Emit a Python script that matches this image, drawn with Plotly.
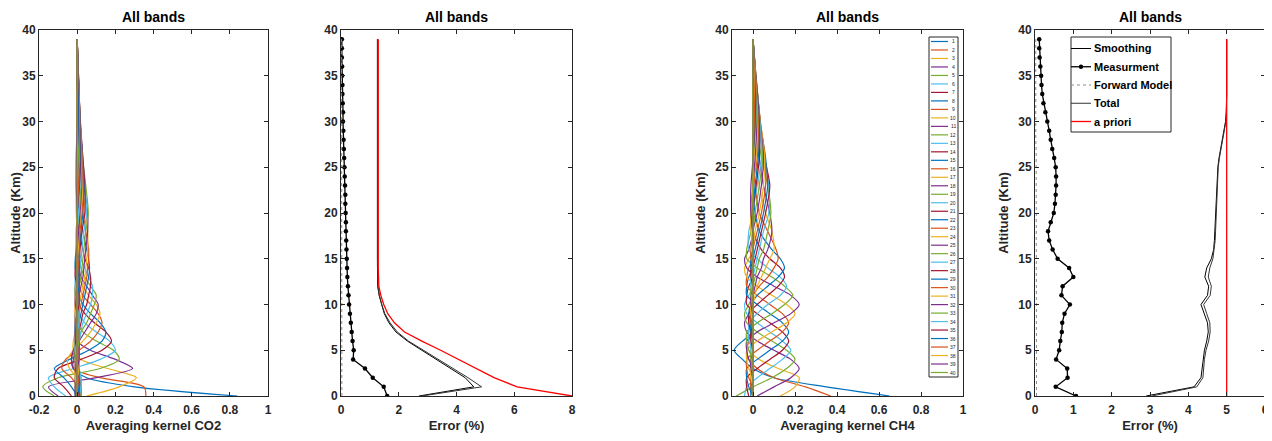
import plotly.graph_objects as go

# ---------------- data ----------------
ALT = [0, 1, 2, 3, 4, 5, 6, 7, 8, 9, 10, 11, 12, 13, 14, 15, 16, 17, 18, 19,
       20, 21, 22, 23, 24, 25, 26, 27, 28, 29, 30, 31, 32, 33, 34, 35, 36, 37, 38, 39]

# altitude grid on which the averaging-kernel rows are read
Z_AK = [0, 1, 2, 3, 4, 5, 6, 7, 8, 9, 10, 11, 12, 13, 14, 15, 16, 18, 20, 23, 26, 30, 35, 39]

CO2_AK = [
    [0.84, 0.30, 0.05, -0.02, -0.02, -0.01, 0, 0, 0, 0, 0, 0, 0, 0, 0, 0, 0, 0, 0, 0, 0, 0, 0, 0],
    [0.36, 0.35, 0.12, -0.02, -0.03, -0.02, -0.01, 0, 0, 0, 0, 0, 0, 0, 0, 0, 0, 0, 0, 0, 0, 0, 0, 0],
    [0.05, 0.22, 0.31, 0.16, 0.02, -0.02, -0.02, -0.01, 0, 0, 0, 0, 0, 0, 0, 0, 0, 0, 0, 0, 0, 0, 0, 0],
    [-0.10, -0.15, 0.10, 0.29, 0.20, 0.07, 0, -0.01, 0, 0, 0, 0, 0, 0, 0, 0, 0, 0, 0, 0, 0, 0, 0, 0],
    [-0.12, -0.18, -0.10, 0.12, 0.22, 0.19, 0.10, 0.03, 0, 0, 0, 0, 0, 0, 0, 0, 0, 0, 0, 0, 0, 0, 0, 0],
    [-0.06, -0.12, -0.15, -0.02, 0.12, 0.20, 0.17, 0.10, 0.04, 0.01, 0, 0, 0, 0, 0, 0, 0, 0, 0, 0, 0, 0, 0, 0],
    [-0.03, -0.07, -0.12, -0.10, 0.02, 0.13, 0.18, 0.15, 0.09, 0.04, 0.01, 0, 0, 0, 0, 0, 0, 0, 0, 0, 0, 0, 0, 0],
    [0, -0.03, -0.07, -0.12, -0.04, 0.06, 0.13, 0.15, 0.12, 0.07, 0.03, 0.01, 0, 0, 0, 0, 0, 0, 0, 0, 0, 0, 0, 0],
    [0.01, 0, -0.03, -0.08, -0.06, 0.01, 0.07, 0.11, 0.13, 0.11, 0.07, 0.03, 0.01, 0, 0, 0, 0, 0, 0, 0, 0, 0, 0, 0],
    [0.02, 0.01, 0, -0.04, -0.05, -0.02, 0.03, 0.07, 0.10, 0.12, 0.10, 0.06, 0.03, 0.01, 0, 0, 0, 0, 0, 0, 0, 0, 0, 0],
    [0.02, 0.02, 0.01, -0.02, -0.03, -0.02, 0.01, 0.04, 0.07, 0.10, 0.11, 0.08, 0.05, 0.02, 0.01, 0, 0, 0, 0, 0, 0, 0, 0, 0],
    [0.02, 0.02, 0.02, 0, -0.01, -0.01, 0.01, 0.02, 0.05, 0.07, 0.09, 0.10, 0.07, 0.04, 0.02, 0.01, 0, 0, 0, 0, 0, 0, 0, 0],
    [0.01, 0.02, 0.02, 0.01, 0, 0, 0.01, 0.02, 0.03, 0.05, 0.07, 0.08, 0.08, 0.06, 0.04, 0.02, 0.01, 0, 0, 0, 0, 0, 0, 0],
    [0.01, 0.01, 0.01, 0.01, 0.01, 0.01, 0.01, 0.01, 0.02, 0.03, 0.05, 0.06, 0.07, 0.07, 0.06, 0.04, 0.03, 0.01, 0, 0, 0, 0, 0, 0],
    [0, 0.01, 0.01, 0.01, 0.01, 0.01, 0.01, 0.01, 0.01, 0.02, 0.03, 0.04, 0.05, 0.06, 0.065, 0.06, 0.05, 0.03, 0.01, 0, 0, 0, 0, 0],
    [0, 0, 0.01, 0.01, 0.01, 0.01, 0.01, 0.01, 0.01, 0.01, 0.02, 0.03, 0.04, 0.05, 0.055, 0.06, 0.06, 0.045, 0.03, 0.01, 0, 0, 0, 0],
    [0, 0, 0, 0.01, 0.01, 0.01, 0.01, 0.01, 0.01, 0.01, 0.01, 0.02, 0.03, 0.04, 0.045, 0.05, 0.055, 0.055, 0.045, 0.025, 0.01, 0, 0, 0],
    [0, 0, 0, 0, 0.01, 0.01, 0.01, 0.01, 0.01, 0.01, 0.01, 0.01, 0.02, 0.03, 0.035, 0.04, 0.045, 0.055, 0.055, 0.035, 0.02, 0.01, 0, 0],
    [0, 0, 0, 0, 0, 0, 0.01, 0.01, 0.01, 0.01, 0.01, 0.01, 0.01, 0.02, 0.025, 0.03, 0.035, 0.045, 0.058, 0.045, 0.028, 0.012, 0, 0],
    [0, 0, 0, 0, 0, 0, 0, 0, 0.01, 0.01, 0.01, 0.01, 0.01, 0.01, 0.015, 0.02, 0.025, 0.035, 0.05, 0.04, 0.03, 0.015, 0.005, 0],
    [-0.01, -0.01, 0, 0, 0, 0, 0, 0, 0, 0, 0.01, 0.01, 0.01, 0.01, 0.01, 0.012, 0.015, 0.025, 0.04, 0.04, 0.03, 0.017, 0.006, 0],
    [-0.01, -0.01, -0.01, 0, 0, 0, 0, 0, 0, 0, 0, 0, 0.01, 0.01, 0.01, 0.01, 0.01, 0.02, 0.03, 0.035, 0.028, 0.015, 0.005, 0],
    [0, -0.01, -0.01, -0.01, 0, 0, 0, 0, 0, 0, 0, 0, 0, 0, 0.005, 0.01, 0.01, 0.015, 0.025, 0.032, 0.026, 0.016, 0.006, 0],
    [0, 0, -0.01, -0.01, -0.01, 0, 0, 0, 0, 0, 0, 0, 0, 0, 0, 0, 0.005, 0.01, 0.02, 0.028, 0.025, 0.015, 0.005, 0],
    [0, 0, 0, -0.01, -0.01, -0.01, 0, 0, 0, 0, 0, 0, 0, 0, 0, 0, 0, 0.008, 0.015, 0.024, 0.024, 0.015, 0.006, 0],
    [0, 0, 0, 0, -0.01, -0.01, -0.01, 0, 0, 0, 0, 0, 0, 0, 0, 0, 0, 0, 0.01, 0.02, 0.022, 0.016, 0.006, 0],
    [0, 0, 0, 0, 0, -0.01, -0.01, -0.01, 0, 0, 0, 0, 0, 0, 0, 0, 0, 0, 0.008, 0.015, 0.02, 0.015, 0.006, 0],
    [0, 0, 0, 0, 0, 0, -0.01, -0.01, -0.01, 0, 0, 0, 0, 0, 0, 0, 0, 0, 0, 0.012, 0.018, 0.015, 0.007, 0],
    [0, 0, 0, 0, 0, 0, 0, -0.01, -0.01, -0.01, 0, 0, 0, 0, 0, 0, 0, 0, 0, 0.01, 0.015, 0.014, 0.007, 0],
    [0, 0, 0, 0, 0, 0, 0, 0, -0.01, -0.01, -0.01, 0, 0, 0, 0, 0, 0, 0, 0, 0.008, 0.012, 0.013, 0.007, 0],
    [0, 0, 0, 0, 0, 0, 0, 0, 0, -0.01, -0.01, -0.01, 0, 0, 0, 0, 0, 0, 0, 0, 0.01, 0.012, 0.006, 0],
    [0, 0, 0, 0, 0, 0, 0, 0, 0, 0, -0.01, -0.01, -0.01, 0, 0, 0, 0, 0, 0, 0, 0.008, 0.01, 0.006, 0],
    [0, 0, 0, 0, 0, 0, 0, 0, 0, 0, 0, -0.01, -0.01, -0.005, 0, 0, 0, 0, 0, 0, 0.006, 0.009, 0.006, 0],
    [0, 0, 0, 0, 0, 0, 0, 0, 0, 0, 0, 0, -0.01, -0.01, -0.005, 0, 0, 0, 0, 0, 0, 0.008, 0.005, 0],
    [0, 0, 0, 0, 0, 0, 0, 0, 0, 0, 0, 0, 0, -0.01, -0.01, -0.005, 0, 0, 0, 0, 0, 0.006, 0.005, 0],
    [0, 0, 0, 0, 0, 0, 0, 0, 0, 0, 0, 0, 0, 0, -0.01, -0.01, -0.005, 0, 0, 0, 0, 0.005, 0.004, 0],
    [0, 0, 0, 0, 0, 0, 0, 0, 0, 0, 0, 0, 0, 0, 0, -0.005, -0.005, -0.005, 0, 0, 0, 0, 0.003, 0],
    [0, 0, 0, 0, 0, 0, 0, 0, 0, 0, 0, 0, 0, 0, 0, 0, 0, 0, -0.005, -0.005, 0, 0, 0.002, 0],
    [0, 0, 0, 0, 0, 0, 0, 0, 0, 0, 0, 0, 0, 0, 0, 0, 0, 0, 0, -0.005, -0.005, 0, 0, 0],
    [0, 0, 0, 0, 0, 0, 0, 0, 0, 0, 0, 0, 0, 0, 0, 0, 0, 0, 0, 0, 0, 0, 0, 0],
]

CH4_AK = [
    [0.65, 0.35, 0.10, 0, -0.05, -0.09, -0.05, 0, 0, 0, 0, 0, 0, 0, 0, 0, 0, 0, 0, 0, 0, 0, 0, 0],
    [0.37, 0.25, 0.10, 0.02, -0.02, -0.03, -0.02, -0.01, 0, 0, 0, 0, 0, 0, 0, 0, 0, 0, 0, 0, 0, 0, 0, 0],
    [0.13, 0.20, 0.22, 0.12, 0.03, -0.02, -0.03, -0.02, 0, 0, 0, 0, 0, 0, 0, 0, 0, 0, 0, 0, 0, 0, 0, 0],
    [0.02, 0.10, 0.18, 0.22, 0.18, 0.10, 0.02, -0.03, -0.04, -0.02, 0, 0, 0, 0, 0, 0, 0, 0, 0, 0, 0, 0, 0, 0],
    [-0.08, 0.00, 0.09, 0.16, 0.20, 0.16, 0.09, 0.02, -0.03, -0.04, -0.02, 0, 0, 0, 0, 0, 0, 0, 0, 0, 0, 0, 0, 0],
    [-0.04, -0.03, 0.02, 0.08, 0.14, 0.18, 0.14, 0.08, 0.02, -0.03, -0.04, -0.02, 0, 0, 0, 0, 0, 0, 0, 0, 0, 0, 0, 0],
    [-0.02, -0.03, -0.03, 0.02, 0.08, 0.14, 0.17, 0.14, 0.08, 0.02, -0.03, -0.03, -0.02, 0, 0, 0, 0, 0, 0, 0, 0, 0, 0, 0],
    [0, -0.02, -0.03, -0.03, 0.02, 0.08, 0.14, 0.17, 0.14, 0.08, 0.02, -0.03, -0.03, -0.02, 0, 0, 0, 0, 0, 0, 0, 0, 0, 0],
    [0, 0, -0.02, -0.03, -0.03, 0.02, 0.08, 0.14, 0.17, 0.14, 0.08, 0.02, -0.03, -0.03, -0.02, 0, 0, 0, 0, 0, 0, 0, 0, 0],
    [0, 0, 0, -0.02, -0.03, -0.03, 0.02, 0.09, 0.16, 0.20, 0.16, 0.09, 0.02, -0.03, -0.04, -0.02, 0, 0, 0, 0, 0, 0, 0, 0],
    [0, 0, 0, 0, -0.02, -0.03, -0.03, 0.02, 0.10, 0.18, 0.22, 0.18, 0.10, 0.02, -0.03, -0.04, -0.02, 0, 0, 0, 0, 0, 0, 0],
    [0, 0, 0, 0, 0, -0.02, -0.03, -0.03, 0.02, 0.09, 0.15, 0.19, 0.15, 0.09, 0.02, -0.03, -0.03, -0.01, 0, 0, 0, 0, 0, 0],
    [0, 0, 0, 0, 0, 0, -0.02, -0.02, -0.02, 0.02, 0.07, 0.13, 0.16, 0.13, 0.07, 0.02, -0.02, -0.02, 0, 0, 0, 0, 0, 0],
    [0, 0, 0, 0, 0, 0, 0, -0.01, -0.02, -0.02, 0.02, 0.07, 0.12, 0.15, 0.13, 0.08, 0.04, 0, -0.01, 0, 0, 0, 0, 0],
    [0, 0, 0, 0, 0, 0, 0, 0, -0.01, -0.02, -0.01, 0.02, 0.07, 0.12, 0.15, 0.13, 0.09, 0.03, 0.01, 0, 0, 0, 0, 0],
    [0, 0, 0, 0, 0, 0, 0, 0, 0, -0.01, -0.01, 0, 0.03, 0.07, 0.10, 0.12, 0.11, 0.07, 0.03, 0.01, 0, 0, 0, 0],
    [0, 0, 0, 0, 0, 0, 0, 0, 0, 0, 0, 0.01, 0.02, 0.04, 0.06, 0.08, 0.10, 0.09, 0.06, 0.03, 0.01, 0, 0, 0],
    [0, 0, 0, 0, 0, 0, 0, 0, 0, 0, 0, 0, 0.01, 0.02, 0.04, 0.05, 0.07, 0.09, 0.08, 0.05, 0.03, 0.01, 0, 0],
    [0, 0, 0, 0, 0, 0, 0, 0, 0, 0, 0, 0, 0, 0.01, 0.02, 0.03, 0.05, 0.07, 0.085, 0.07, 0.04, 0.02, 0.01, 0],
    [0, 0, 0, 0, 0, 0, 0, 0, 0, 0, 0, 0, 0, 0, 0.01, 0.02, 0.03, 0.05, 0.075, 0.075, 0.05, 0.025, 0.01, 0],
    [0, 0, 0, 0, 0, 0, 0, 0, 0, 0, 0, 0, 0, 0, 0, 0.01, 0.02, 0.04, 0.06, 0.08, 0.055, 0.03, 0.01, 0],
    [-0.01, -0.01, 0, 0, 0, 0, 0, 0, 0, 0, 0, 0, 0, 0, 0, 0, 0.01, 0.03, 0.05, 0.07, 0.06, 0.033, 0.012, 0],
    [0, -0.01, -0.01, 0, 0, 0, 0, 0, 0, 0, 0, 0, 0, 0, 0, 0, 0, 0.02, 0.04, 0.06, 0.058, 0.035, 0.013, 0],
    [0, 0, -0.01, -0.01, 0, 0, 0, 0, 0, 0, 0, 0, 0, 0, 0, 0, 0, 0.01, 0.03, 0.05, 0.055, 0.035, 0.014, 0],
    [0, 0, 0, -0.01, -0.01, 0, 0, 0, 0, 0, 0, 0, 0, 0, 0, 0, 0, 0, 0.02, 0.04, 0.05, 0.034, 0.014, 0],
    [0, 0, 0, 0, -0.01, -0.01, 0, 0, 0, 0, 0, 0, 0, 0, 0, 0, 0, 0, 0.01, 0.03, 0.045, 0.033, 0.014, 0],
    [0, 0, 0, 0, 0, -0.01, -0.01, 0, 0, 0, 0, 0, 0, 0, 0, 0, 0, 0, 0, 0.02, 0.04, 0.032, 0.013, 0],
    [0, 0, 0, 0, 0, 0, -0.01, -0.01, 0, 0, 0, 0, 0, 0, 0, 0, 0, 0, 0, 0.015, 0.03, 0.03, 0.013, 0],
    [0, 0, 0, 0, 0, 0, 0, -0.01, -0.01, 0, 0, 0, 0, 0, 0, 0, 0, 0, 0, 0.01, 0.025, 0.028, 0.012, 0],
    [0, 0, 0, 0, 0, 0, 0, 0, -0.01, -0.01, 0, 0, 0, 0, 0, 0, 0, 0, 0, 0, 0.02, 0.025, 0.012, 0],
    [0, 0, 0, 0, 0, 0, 0, 0, 0, -0.01, -0.01, 0, 0, 0, 0, 0, 0, 0, 0, 0, 0.015, 0.022, 0.011, 0],
    [0, 0, 0, 0, 0, 0, 0, 0, 0, 0, -0.01, -0.01, 0, 0, 0, 0, 0, 0, 0, 0, 0.01, 0.018, 0.01, 0],
    [0, 0, 0, 0, 0, 0, 0, 0, 0, 0, 0, -0.01, -0.01, 0, 0, 0, 0, 0, 0, 0, 0, 0.015, 0.01, 0],
    [0, 0, 0, 0, 0, 0, 0, 0, 0, 0, 0, 0, -0.01, -0.01, 0, 0, 0, 0, 0, 0, 0, 0.012, 0.009, 0],
    [0, 0, 0, 0, 0, 0, 0, 0, 0, 0, 0, 0, 0, -0.01, -0.01, 0, 0, 0, 0, 0, 0, 0.01, 0.008, 0],
    [0, 0, 0, 0, 0, 0, 0, 0, 0, 0, 0, 0, 0, 0, -0.01, -0.01, 0, 0, 0, 0, 0, 0.008, 0.007, 0],
    [0, 0, 0, 0, 0, 0, 0, 0, 0, 0, 0, 0, 0, 0, 0, -0.01, -0.01, 0, 0, 0, 0, 0.006, 0.006, 0],
    [0, 0, 0, 0, 0, 0, 0, 0, 0, 0, 0, 0, 0, 0, 0, 0, 0, -0.01, -0.01, 0, 0, 0, 0.005, 0],
    [0, 0, 0, 0, 0, 0, 0, 0, 0, 0, 0, 0, 0, 0, 0, 0, 0, 0, -0.01, -0.01, 0, 0, 0.003, 0],
    [0, 0, 0, 0, 0, 0, 0, 0, 0, 0, 0, 0, 0, 0, 0, 0, 0, 0, 0, 0, 0, 0, 0, 0],
]

CO2_SMOOTH = [2.70, 4.60, 4.30, 3.80, 3.30, 2.80, 2.30, 1.90, 1.66, 1.50, 1.40, 1.32, 1.27, 1.26,
              1.26, 1.26, 1.26, 1.26, 1.26, 1.26, 1.26, 1.26, 1.26, 1.26, 1.26, 1.26, 1.26, 1.26,
              1.26, 1.26, 1.26, 1.26, 1.26, 1.26, 1.26, 1.26, 1.26, 1.26, 1.26, 1.26]
CO2_MEAS = [1.60, 1.48, 1.10, 0.83, 0.42, 0.44, 0.40, 0.37, 0.34, 0.31, 0.28, 0.26, 0.24, 0.22,
            0.21, 0.20, 0.19, 0.18, 0.17, 0.17, 0.16, 0.15, 0.15, 0.14, 0.13, 0.12, 0.11, 0.10,
            0.09, 0.08, 0.07, 0.07, 0.06, 0.05, 0.05, 0.04, 0.04, 0.03, 0.03, 0.03]
CO2_FWD = [0.03, 0.03, 0.03, 0.03, 0.03, 0.03, 0.03, 0.03, 0.03, 0.03, 0.03, 0.03, 0.03, 0.03,
           0.03, 0.03, 0.03, 0.03, 0.03, 0.03, 0.02, 0.02, 0.02, 0.02, 0.02, 0.02, 0.02, 0.02,
           0.02, 0.02, 0.02, 0.02, 0.02, 0.02, 0.02, 0.02, 0.02, 0.02, 0.02, 0.02]
CO2_TOTAL = [2.80, 4.87, 4.40, 3.88, 3.37, 2.86, 2.34, 1.95, 1.70, 1.52, 1.41, 1.33, 1.28, 1.27,
             1.27, 1.27, 1.27, 1.27, 1.27, 1.27, 1.27, 1.27, 1.27, 1.27, 1.27, 1.27, 1.27, 1.27,
             1.27, 1.27, 1.27, 1.27, 1.27, 1.27, 1.27, 1.27, 1.27, 1.27, 1.27, 1.27]
CO2_APRIORI = [8.00, 6.10, 5.30, 4.70, 4.10, 3.45, 2.80, 2.20, 1.85, 1.62, 1.48, 1.38, 1.31, 1.29,
               1.29, 1.29, 1.29, 1.29, 1.29, 1.29, 1.29, 1.29, 1.29, 1.29, 1.29, 1.29, 1.29, 1.29,
               1.29, 1.29, 1.29, 1.29, 1.29, 1.29, 1.29, 1.29, 1.29, 1.29, 1.29, 1.29]

CH4_SMOOTH = [2.90, 4.15, 4.33, 4.36, 4.38, 4.42, 4.48, 4.52, 4.50, 4.42, 4.33, 4.50, 4.53, 4.43,
              4.48, 4.60, 4.66, 4.68, 4.69, 4.70, 4.71, 4.72, 4.73, 4.74, 4.75, 4.77, 4.80, 4.84,
              4.88, 4.93, 4.97, 4.99, 5.00, 5.00, 5.00, 5.00, 5.00, 5.00, 5.00, 5.00]
CH4_MEAS = [1.07, 0.54, 0.85, 0.84, 0.55, 0.63, 0.66, 0.70, 0.71, 0.77, 0.91, 0.69, 0.72, 1.00,
            0.89, 0.59, 0.46, 0.37, 0.34, 0.41, 0.49, 0.52, 0.54, 0.55, 0.55, 0.54, 0.50, 0.45,
            0.41, 0.37, 0.32, 0.27, 0.22, 0.19, 0.17, 0.16, 0.14, 0.12, 0.11, 0.11]
CH4_FWD = [0.04, 0.04, 0.04, 0.04, 0.04, 0.04, 0.04, 0.04, 0.04, 0.04, 0.04, 0.04, 0.04, 0.04,
           0.04, 0.04, 0.04, 0.04, 0.04, 0.04, 0.03, 0.03, 0.03, 0.03, 0.03, 0.03, 0.03, 0.03,
           0.02, 0.02, 0.02, 0.02, 0.02, 0.02, 0.02, 0.02, 0.02, 0.02, 0.02, 0.02]
CH4_TOTAL = [3.05, 4.22, 4.38, 4.40, 4.42, 4.46, 4.53, 4.57, 4.56, 4.48, 4.40, 4.57, 4.60, 4.52,
             4.56, 4.64, 4.68, 4.70, 4.71, 4.72, 4.72, 4.73, 4.74, 4.75, 4.76, 4.78, 4.81, 4.85,
             4.89, 4.94, 4.98, 4.99, 5.00, 5.00, 5.00, 5.00, 5.00, 5.00, 5.00, 5.00]
CH4_APRIORI = [5.0, 5.0, 5.0, 5.0, 5.0, 5.0, 5.0, 5.0, 5.0, 5.0, 5.0, 5.0, 5.0, 5.0,
               5.0, 5.0, 5.0, 5.0, 5.0, 5.0, 5.0, 5.0, 5.0, 5.0, 5.0, 5.0, 5.0, 5.0,
               5.0, 5.0, 5.0, 5.0, 5.0, 5.0, 5.0, 5.0, 5.0, 5.0, 5.0, 5.0]

KERNEL_LABELS = ["1", "2", "3", "4", "5", "6", "7", "8", "9", "10", "11", "12", "13", "14",
                 "15", "16", "17", "18", "19", "20", "21", "22", "23", "24", "25", "26", "27",
                 "28", "29", "30", "31", "32", "33", "34", "35", "36", "37", "38", "39", "40"]
ERROR_NAMES = ["Smoothing", "Measurment", "Forward Model", "Total", "a priori"]
MATLAB_COLORS = ["#0072BD", "#D95319", "#EDB120", "#7E2F8E", "#77AC30", "#4DBEEE", "#A2142F"]

PANEL_TITLE = "All bands"
X_TITLES = ["Averaging kernel CO2", "Error (%)", "Averaging kernel CH4", "Error (%)"]
Y_TITLE = "Altitude (Km)"

X_TICKS_AK = [-0.2, 0, 0.2, 0.4, 0.6, 0.8, 1]
X_TICKTEXT_AK = ["-0.2", "0", "0.2", "0.4", "0.6", "0.8", "1"]
X_TICKS_E1 = [0, 2, 4, 6, 8]
X_TICKS_E2 = [0, 1, 2, 3, 4, 5, 6]
Y_TICKS = [0, 5, 10, 15, 20, 25, 30, 35, 40]

for row in CO2_AK + CH4_AK:
    assert len(row) == len(Z_AK), len(row)

# ---------------- layout geometry ----------------
# The page body has an 8 px default margin, so the figure is 8 px smaller and
# every reference pixel position is shifted by that offset.
VIEW_W, VIEW_H, BODY = 1272, 441, 8
W, H = VIEW_W - BODY, VIEW_H - BODY
FONT = "Liberation Sans, Arial, sans-serif"
INK = "#262626"


def px(p):
    return (p - BODY) / W


def py(p):
    return 1 - (p - BODY) / H


PANELS_PX = [(39, 268), (341, 572), (732, 963), (1035, 1265)]
TOP_PX, BOT_PX = 30, 396
YDOM = [py(BOT_PX), py(TOP_PX)]

ERR_STYLE = [
    dict(mode="lines", line=dict(color="black", width=1)),
    dict(mode="lines+markers", line=dict(color="black", width=1.3), marker=dict(color="black", size=4.5)),
    dict(mode="lines", line=dict(color="#8c8c8c", width=1, dash="dot")),
    dict(mode="lines", line=dict(color="#333333", width=1)),
    dict(mode="lines", line=dict(color="#ff0000", width=1.3)),
]

fig = go.Figure()

# --- averaging kernels ---
for k, row in enumerate(CO2_AK):
    fig.add_trace(go.Scatter(x=row, y=Z_AK, mode="lines", xaxis="x", yaxis="y",
                             line=dict(color=MATLAB_COLORS[k % 7], width=1.2, shape="spline", smoothing=0.8),
                             showlegend=False, hoverinfo="skip"))
for k, row in enumerate(CH4_AK):
    fig.add_trace(go.Scatter(x=row, y=Z_AK, mode="lines", xaxis="x3", yaxis="y3",
                             line=dict(color=MATLAB_COLORS[k % 7], width=1.2, shape="spline", smoothing=0.8),
                             showlegend=False, hoverinfo="skip"))

# --- error profiles ---
for xa, ya, series in [("x2", "y2", [CO2_SMOOTH, CO2_MEAS, CO2_FWD, CO2_TOTAL, CO2_APRIORI]),
                       ("x4", "y4", [CH4_SMOOTH, CH4_MEAS, CH4_FWD, CH4_TOTAL, CH4_APRIORI])]:
    for name, vals, st in zip(ERROR_NAMES, series, ERR_STYLE):
        fig.add_trace(go.Scatter(x=vals, y=ALT, name=name, xaxis=xa, yaxis=ya, showlegend=False, **st))

# --- axes ---
tickfont = dict(family=FONT, size=12, color=INK, weight="bold")
titlefont = dict(family=FONT, size=13, color=INK, weight="bold")


def xaxis(i, rng, tickvals, ticktext=None):
    x0, x1 = PANELS_PX[i]
    d = dict(domain=[px(x0), px(x1)], range=rng, anchor="y" if i == 0 else f"y{i + 1}",
             tickvals=tickvals, showline=True, linecolor=INK, linewidth=1, mirror="ticks",
             ticks="inside", ticklen=4, tickcolor=INK, showgrid=False, zeroline=False,
             automargin=False, ticklabelstandoff=3,
             tickfont=tickfont, title=dict(text=X_TITLES[i], font=titlefont, standoff=4))
    if ticktext is not None:
        d["ticktext"] = ticktext
    return d


def yaxis(i, show_title):
    d = dict(domain=YDOM, range=[0, 40], anchor="x" if i == 0 else f"x{i + 1}",
             tickvals=Y_TICKS, showline=True, linecolor=INK, linewidth=1, mirror="ticks",
             ticks="inside", ticklen=4, tickcolor=INK, showgrid=False, zeroline=False,
             automargin=False, tickfont=tickfont)
    if show_title:
        d["title"] = dict(text=Y_TITLE, font=titlefont, standoff=6)
    return d


fig.update_layout(
    xaxis=xaxis(0, [-0.2, 1], X_TICKS_AK, X_TICKTEXT_AK),
    xaxis2=xaxis(1, [0, 8], X_TICKS_E1),
    xaxis3=xaxis(2, [-0.1, 1], X_TICKS_AK[1:], X_TICKTEXT_AK[1:]),
    xaxis4=xaxis(3, [0, 6], X_TICKS_E2),
    yaxis=yaxis(0, True),
    yaxis2=yaxis(1, False),
    yaxis3=yaxis(2, True),
    yaxis4=yaxis(3, True),
)

# --- panel titles ---
annotations = []
for (x0, x1) in PANELS_PX:
    annotations.append(dict(text=PANEL_TITLE, x=px((x0 + x1) / 2), y=py(17.5), xref="paper", yref="paper",
                            xanchor="center", yanchor="middle", showarrow=False,
                            font=dict(family=FONT, size=14, color="black", weight="bold")))

shapes = []

# --- 40-entry legend box inside the CH4 kernel panel ---
LEG_L, LEG_R, LEG_T, LEG_B = 929, 958, 37, 377
shapes.append(dict(type="rect", xref="paper", yref="paper", x0=px(LEG_L), x1=px(LEG_R),
                   y0=py(LEG_B), y1=py(LEG_T), line=dict(color=INK, width=1),
                   fillcolor="white", layer="above"))
step = (LEG_B - LEG_T - 9) / (len(KERNEL_LABELS) - 1)
for i, lab in enumerate(KERNEL_LABELS):
    yy = py(LEG_T + 4.5 + i * step)
    shapes.append(dict(type="line", xref="paper", yref="paper", x0=px(931), x1=px(948), y0=yy, y1=yy,
                       line=dict(color=MATLAB_COLORS[i % 7], width=1.2), layer="above"))
    annotations.append(dict(text=lab, x=px(953), y=yy, xref="paper", yref="paper", xanchor="center",
                            yanchor="middle", showarrow=False,
                            font=dict(family=FONT, size=5, color=INK)))

# --- 5-entry legend box inside the CH4 error panel ---
EL_L, EL_R, EL_T, EL_B = 1071, 1171, 37, 132
shapes.append(dict(type="rect", xref="paper", yref="paper", x0=px(EL_L), x1=px(EL_R),
                   y0=py(EL_B), y1=py(EL_T), line=dict(color=INK, width=1),
                   fillcolor="white", layer="above"))
estep = (EL_B - EL_T - 22) / (len(ERROR_NAMES) - 1)
for i, (name, st) in enumerate(zip(ERROR_NAMES, ERR_STYLE)):
    yy = py(EL_T + 11.5 + i * estep)
    ln = st["line"]
    shapes.append(dict(type="line", xref="paper", yref="paper", x0=px(EL_L), x1=px(1091), y0=yy, y1=yy,
                       line=dict(color=ln["color"], width=ln["width"], dash=ln.get("dash", "solid")),
                       layer="above"))
    if "marker" in st:
        r = 2.2
        shapes.append(dict(type="circle", xref="paper", yref="paper",
                           x0=px(1081 - r), x1=px(1081 + r), y0=yy - r / H, y1=yy + r / H,
                           line=dict(color="black", width=0), fillcolor="black", layer="above"))
    annotations.append(dict(text=name, x=px(1092), y=yy, xref="paper", yref="paper", xanchor="left",
                            yanchor="middle", showarrow=False,
                            font=dict(family=FONT, size=11, color="black", weight="bold")))

fig.update_layout(
    width=W, height=H, margin=dict(l=0, r=0, t=0, b=0),
    paper_bgcolor="white", plot_bgcolor="white",
    annotations=annotations, shapes=shapes,
    showlegend=False,
)

fig.write_html("out.html")
